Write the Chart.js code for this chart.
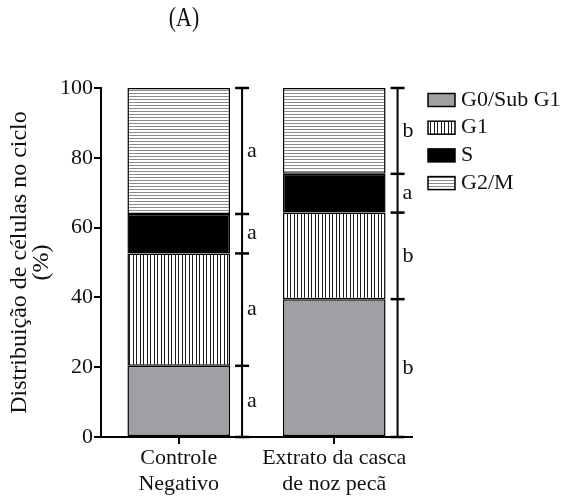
<!DOCTYPE html>
<html>
<head>
<meta charset="utf-8">
<script src="https://cdn.jsdelivr.net/npm/chart.js@4/dist/chart.umd.min.js"></script>
<style>
  html, body { margin: 0; padding: 0; background: #fff; }
  #wrap { width: 568px; height: 502px; }
</style>
</head>
<body>
<div id="wrap"><canvas id="c" width="568" height="502"></canvas></div>
<script>
// Cell-cycle phase distribution (%) per treatment
const categories = [["Controle", "Negativo"], ["Extrato da casca", "de noz pecã"]];
const phaseNames = ["G0/Sub G1", "G1", "S", "G2/M"];
const g0SubG1 = [20.4, 39.5];
const g1Phase = [32.2, 24.8];
const sPhase = [11.3, 11.1];
const g2mPhase = [36.1, 24.6];
// Significance letters per treatment, bottom segment first
const letterGroups = [["a", "a", "a", "a"], ["b", "b", "a", "b"]];
const yTickValues = [0, 20, 40, 60, 80, 100];
const panelTitle = "(A)";

const FONT = "Liberation Serif";

function makePattern(w, h, draw) {
  const cv = document.createElement("canvas");
  cv.width = w; cv.height = h;
  const g = cv.getContext("2d");
  g.fillStyle = "#ffffff";
  g.fillRect(0, 0, w, h);
  draw(g);
  return g.createPattern(cv, "repeat");
}
const verticalHatch = makePattern(7, 4, g => {
  g.fillStyle = "#1a1a1a";
  g.fillRect(0, 0, 1, 4);
  g.fillRect(3, 0, 1, 4);
});
const horizontalHatch = makePattern(4, 3, g => {
  g.fillStyle = "#8c8c8c";
  g.fillRect(0, 0, 4, 1);
});

const fills = ["#a0a0a4", verticalHatch, "#000000", horizontalHatch];
const series = [g0SubG1, g1Phase, sPhase, g2mPhase];

const datasets = series.map((vals, i) => ({
  label: phaseNames[i],
  data: vals,
  backgroundColor: fills[i],
  borderColor: "#000",
  borderWidth: 1.5,
  borderSkipped: false,
  stack: "cycle",
  categoryPercentage: 0.66,
  barPercentage: 1.0
}));

// Panel label above the plot (narrow, tall serif)
const panelLabel = {
  id: "panelLabel",
  afterDraw(chart) {
    const ctx = chart.ctx;
    ctx.save();
    ctx.translate(184, 19);
    ctx.scale(0.78, 1);
    ctx.fillStyle = "#111";
    ctx.font = "28px '" + FONT + "'";
    ctx.textAlign = "center";
    ctx.textBaseline = "middle";
    ctx.fillText(panelTitle, 0, 0);
    ctx.restore();
  }
};

// Bracket with caps at each segment boundary, plus letters
const brackets = {
  id: "brackets",
  afterDatasetsDraw(chart) {
    const ctx = chart.ctx;
    const y = chart.scales.y;
    const meta = chart.getDatasetMeta(0);
    ctx.save();
    ctx.strokeStyle = "#000";
    ctx.fillStyle = "#111";
    ctx.font = "22px '" + FONT + "'";
    ctx.textAlign = "left";
    ctx.textBaseline = "middle";
    meta.data.forEach((bar, i) => {
      const right = bar.x + bar.width / 2;
      const lx = right + 12;
      const bounds = [0];
      series.forEach(s => bounds.push(bounds[bounds.length - 1] + s[i]));
      ctx.lineWidth = 2;
      ctx.beginPath();
      ctx.moveTo(lx, y.getPixelForValue(bounds[0]));
      ctx.lineTo(lx, y.getPixelForValue(bounds[bounds.length - 1]));
      ctx.stroke();
      ctx.lineWidth = 2.5;
      bounds.forEach(b => {
        const py = y.getPixelForValue(b);
        ctx.beginPath();
        ctx.moveTo(lx - 7, py);
        ctx.lineTo(lx + 7, py);
        ctx.stroke();
      });
      for (let k = 0; k < series.length; k++) {
        const mid = y.getPixelForValue((bounds[k] + bounds[k + 1]) / 2);
        ctx.fillText(letterGroups[i][k], lx + 5, mid);
      }
    });
    ctx.restore();
  }
};

// Legend on the right
const sideLegend = {
  id: "sideLegend",
  afterDraw(chart) {
    const ctx = chart.ctx;
    ctx.save();
    ctx.font = "22px '" + FONT + "'";
    ctx.textAlign = "left";
    ctx.textBaseline = "middle";
    chart.data.datasets.forEach((ds, i) => {
      const cy = 100 + i * 27.7;
      ctx.fillStyle = ds.backgroundColor;
      ctx.fillRect(428, cy - 6.5, 27, 13);
      ctx.lineWidth = 1.5;
      ctx.strokeStyle = "#000";
      ctx.strokeRect(428, cy - 6.5, 27, 13);
      ctx.fillStyle = "#111";
      ctx.fillText(ds.label, 461, cy);
    });
    ctx.restore();
  }
};

new Chart(document.getElementById("c"), {
  type: "bar",
  data: { labels: categories, datasets },
  options: {
    responsive: false,
    animation: false,
    layout: { padding: { top: 88, right: 156, left: 0, bottom: 0 } },
    plugins: { legend: { display: false }, tooltip: { enabled: false } },
    scales: {
      x: {
        stacked: true,
        offset: true,
        grid: { display: true, drawOnChartArea: false, drawTicks: true, tickLength: 7, color: "#000", lineWidth: 2, offset: false },
        border: { display: true, color: "#000", width: 2 },
        ticks: { color: "#111", font: { family: FONT, size: 22, lineHeight: 1.15 }, padding: 2, maxRotation: 0, autoSkip: false },
        afterFit(s) { s.height = 65; }
      },
      y: {
        stacked: true,
        min: 0, max: 100,
        afterBuildTicks(s) { s.ticks = yTickValues.map(v => ({ value: v })); },
        grid: { display: true, drawOnChartArea: false, drawTicks: true, tickLength: 7, color: "#000", lineWidth: 2 },
        border: { display: true, color: "#000", width: 2 },
        ticks: { color: "#111", font: { family: FONT, size: 22 }, padding: 1 },
        title: {
          display: true,
          text: ["Distribuição de células no ciclo", "(%)"],
          color: "#111",
          font: { family: FONT, size: 24, lineHeight: 0.95 },
          padding: { top: 8, bottom: 0 }
        },
        afterFit(s) { s.width = 101; }
      }
    }
  },
  plugins: [panelLabel, brackets, sideLegend]
});
</script>
</body>
</html>
